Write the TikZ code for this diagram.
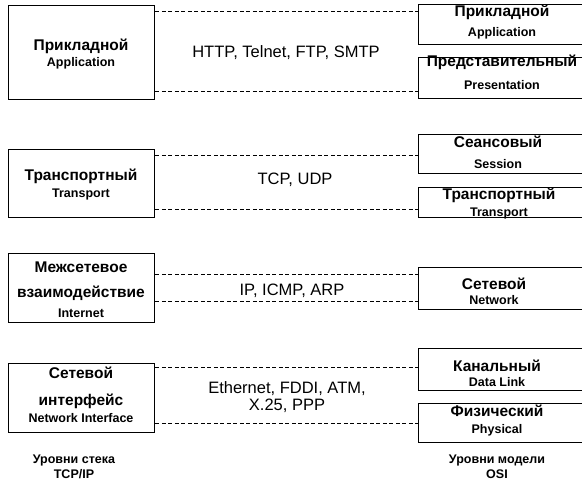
\documentclass[tikz,border=0pt]{standalone}
\usepackage{fontspec}
\setmainfont{Liberation Sans}
\newcommand\boxtitle{\fontsize{15.5}{18}\selectfont\bfseries}
\newcommand\boxsub{\fontsize{12.5}{15}\selectfont\bfseries}
\newcommand\proto{\fontsize{16.5}{19}\selectfont}
\begin{document}
\begin{tikzpicture}[x=1pt,y=-1pt,
  layerbox/.style={draw, line width=1.4pt, inner sep=0pt, anchor=north west},
  tcpbox/.style={layerbox, minimum width=146pt},
  osibox/.style={layerbox, minimum width=168pt},
  dashline/.style={line width=0.9pt, dash pattern=on 4pt off 2.5pt},
  lbl/.style={anchor=base, inner sep=0pt}]
\useasboundingbox (0,0) rectangle (582,495);
\fill[white] (0,0) rectangle (582,495);

% TCP/IP stack boxes
\node[tcpbox, minimum height=94pt] (L1) at (8,5) {};
\node[tcpbox, minimum height=68pt] (L2) at (8,149) {};
\node[tcpbox, minimum height=69pt] (L3) at (8,253) {};
\node[tcpbox, minimum height=69pt] (L4) at (8,363) {};

% OSI boxes
\node[osibox, minimum height=40pt] (R1) at (418,4) {};
\node[osibox, minimum height=41pt] (R2) at (418,57) {};
\node[osibox, minimum height=39pt] (R3) at (418,134) {};
\node[osibox, minimum height=30pt] (R4) at (418,187) {};
\node[osibox, minimum height=42pt] (R5) at (418,267) {};
\node[osibox, minimum height=42pt] (R6) at (418,348) {};
\node[osibox, minimum height=39pt] (R7) at (418,403) {};

% dashed connectors
\draw[dashline] (L1.east |- 0,11) -- (R1.west |- 0,11);
\draw[dashline] (L1.east |- 0,91) -- (R2.west |- 0,91);
\draw[dashline] (L2.east |- 0,155) -- (R3.west |- 0,155);
\draw[dashline] (L2.east |- 0,209) -- (R4.west |- 0,209);
\draw[dashline] (L3.east |- 0,274) -- (R5.west |- 0,274);
\draw[dashline] (L3.east |- 0,301) -- (R5.west |- 0,301);
\draw[dashline] (L4.east |- 0,367) -- (R6.west |- 0,367);
\draw[dashline] (L4.east |- 0,423) -- (R7.west |- 0,423);

% left texts
\node[lbl] (l1a) at (81,51) {\boxtitle Прикладной};
\node[lbl] (l1b) at (81,67) {\boxsub Application};
\node[lbl] (l2a) at (81,180) {\boxtitle Транспортный};
\node[lbl] (l2b) at (81,197) {\boxsub Transport};
\node[lbl] (l3a) at (81,272) {\boxtitle Межсетевое};
\node[lbl] (l3b) at (81,297) {\boxtitle взаимодействие};
\node[lbl] (l3c) at (81,317) {\boxsub Internet};
\node[lbl] (l4a) at (81,378) {\boxtitle Сетевой};
\node[lbl] (l4b) at (81,405) {\boxtitle интерфейс};
\node[lbl] (l4c) at (81,422) {\boxsub Network Interface};

% right texts
\node[lbl] (r1a) at (502,17) {\boxtitle Прикладной};
\node[lbl] (r1b) at (502,37) {\boxsub Application};
\node[lbl] (r2a) at (502,67) {\boxtitle Представительный};
\node[lbl] (r2b) at (502,90) {\boxsub Presentation};
\node[lbl] (r3a) at (498,148) {\boxtitle Сеансовый};
\node[lbl] (r3b) at (498,168) {\boxsub Session};
\node[lbl] (r4a) at (499,200) {\boxtitle Транспортный};
\node[lbl] (r4b) at (499,216) {\boxsub Transport};
\node[lbl] (r5a) at (494,289) {\boxtitle Сетевой};
\node[lbl] (r5b) at (494,304) {\boxsub Network};
\node[lbl] (r6a) at (497,371) {\boxtitle Канальный};
\node[lbl] (r6b) at (497,386) {\boxsub Data Link};
\node[lbl] (r7a) at (497,416) {\boxtitle Физический};
\node[lbl] (r7b) at (497,433) {\boxsub Physical};

% protocols
\node[lbl] (p1) at (286,58) {\proto HTTP, Telnet, FTP, SMTP};
\node[lbl] (p2) at (295,185) {\proto TCP, UDP};
\node[lbl] (p3) at (292,295) {\proto IP, ICMP, ARP};
\node[lbl] (p4a) at (287,393) {\proto Ethernet, FDDI, ATM,};
\node[lbl] (p4b) at (287,410) {\proto X.25, PPP};

% captions
\node[lbl] (c1a) at (74,463) {\boxsub Уровни стека};
\node[lbl] (c1b) at (74,478) {\boxsub TCP/IP};
\node[lbl] (c2a) at (497,463) {\boxsub Уровни модели};
\node[lbl] (c2b) at (497,478) {\boxsub OSI};
\end{tikzpicture}
\end{document}
